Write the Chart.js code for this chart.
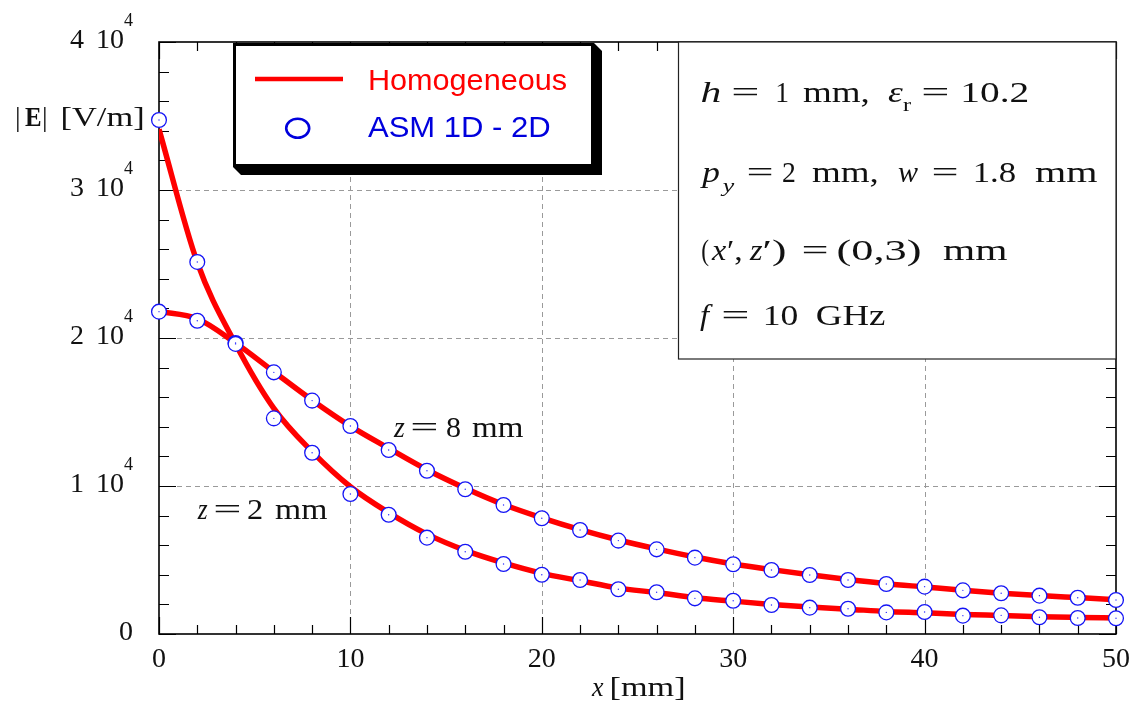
<!DOCTYPE html>
<html>
<head>
<meta charset="utf-8">
<script src="https://cdn.jsdelivr.net/npm/chart.js@4.4.1/dist/chart.umd.min.js"></script>
<style>
  body { margin: 0; background: #fff; }
  canvas { display: block; }
</style>
</head>
<body>
<canvas id="fieldChart" width="1137" height="708"></canvas>
<script>
// sample positions along x [mm]
const xPos = [0, 2, 4, 6, 8, 10, 12, 14, 16, 18, 20, 22, 24, 26, 28, 30, 32, 34, 36, 38, 40, 42, 44, 46, 48, 50];

// |E| [V/m], homogeneous reference solution
const homZ2 = [34100, 25100, 19600, 15250, 12320, 9950, 8200, 6750, 5650, 4800, 4100, 3600, 3100, 2800, 2450, 2220, 2000, 1820, 1680, 1520, 1430, 1320, 1250, 1170, 1120, 1080];
const homZ8 = [21800, 21300, 19660, 17720, 15800, 14050, 12550, 11100, 9850, 8750, 7850, 7050, 6350, 5750, 5200, 4730, 4350, 4000, 3680, 3400, 3180, 2960, 2760, 2600, 2460, 2320];

// |E| [V/m], ASM 1D - 2D samples
const asmZ2 = [34730, 25140, 19600, 14570, 12250, 9460, 8060, 6510, 5560, 4730, 4000, 3650, 3020, 2820, 2410, 2250, 1960, 1780, 1710, 1460, 1490, 1240, 1260, 1130, 1080, 1060];
const asmZ8 = [21780, 21170, 19660, 17680, 15770, 14050, 12430, 11030, 9780, 8720, 7820, 7030, 6310, 5720, 5160, 4710, 4320, 3990, 3650, 3380, 3200, 2950, 2750, 2590, 2450, 2300];

const xTicks = [0, 10, 20, 30, 40, 50];
const xMinor = [2, 4, 6, 8, 12, 14, 16, 18, 22, 24, 26, 28, 32, 34, 36, 38, 42, 44, 46, 48];
const yTicks = [0, 10000, 20000, 30000, 40000];
const yMinor = [2000, 4000, 6000, 8000, 12000, 14000, 16000, 18000, 22000, 24000, 26000, 28000, 32000, 34000, 36000, 38000];
const yMant = ['0', '1', '2', '3', '4'];

const pts = ys => xPos.map((x, i) => ({ x: x, y: ys[i] }));

const SERIF = '"Liberation Serif", "DejaVu Serif", serif';
const RM = '30px ' + SERIF;
const IT = 'italic 30px ' + SERIF;
const SUB = '19px ' + SERIF;
const SUBIT = 'italic 19px ' + SERIF;
const TICK = '28px ' + SERIF;

// draws text so its ink spans x0..x1 (stretched horizontally if needed)
function inkText(ctx, txt, font, x0, x1, y) {
    ctx.font = font;
    ctx.textAlign = 'left';
    ctx.textBaseline = 'alphabetic';
    const m = ctx.measureText(txt);
    const ink = m.actualBoundingBoxLeft + m.actualBoundingBoxRight;
    const s = x1 ? (x1 - x0) / ink : 1;
    ctx.save();
    ctx.translate(x0, y);
    ctx.scale(s, 1);
    ctx.fillText(txt, m.actualBoundingBoxLeft, 0);
    ctx.restore();
}

function drawRuns(ctx, y, list) {
    for (const r of list) {
        inkText(ctx, r[0], r[1], r[2], r[3], y + (r[4] || 0));
    }
}

const decor = {
    id: 'decor',
    beforeDatasetsDraw(chart) {
        const ctx = chart.ctx;
        const a = chart.chartArea;
        const sx = chart.scales.x;
        const sy = chart.scales.y;
        ctx.save();
        // dashed grid at major ticks
        ctx.strokeStyle = '#9a9a9a';
        ctx.lineWidth = 1;
        ctx.setLineDash([5, 4]);
        ctx.beginPath();
        for (const v of xTicks.slice(1, -1)) {
            const px = Math.round(sx.getPixelForValue(v)) + 0.5;
            ctx.moveTo(px, a.top);
            ctx.lineTo(px, a.bottom);
        }
        for (const v of yTicks.slice(1, -1)) {
            const py = Math.round(sy.getPixelForValue(v)) + 0.5;
            ctx.moveTo(a.left, py);
            ctx.lineTo(a.right, py);
        }
        ctx.stroke();
        ctx.setLineDash([]);

        // inward ticks on all four sides
        ctx.strokeStyle = '#000';
        ctx.lineWidth = 1.2;
        ctx.beginPath();
        const xt = (list, len) => {
            for (const v of list) {
                const px = Math.round(sx.getPixelForValue(v)) + 0.5;
                ctx.moveTo(px, a.bottom); ctx.lineTo(px, a.bottom - len);
                ctx.moveTo(px, a.top); ctx.lineTo(px, a.top + len);
            }
        };
        const yt = (list, len) => {
            for (const v of list) {
                const py = Math.round(sy.getPixelForValue(v)) + 0.5;
                ctx.moveTo(a.left, py); ctx.lineTo(a.left + len, py);
                ctx.moveTo(a.right, py); ctx.lineTo(a.right - len, py);
            }
        };
        xt(xTicks, 17);
        xt(xMinor, 9);
        yt(yTicks, 17);
        yt(yMinor, 10);
        ctx.stroke();

        // frame
        ctx.lineWidth = 1.6;
        ctx.strokeRect(a.left, a.top, a.right - a.left, a.bottom - a.top);
        ctx.restore();
    },
    afterDatasetsDraw(chart) {
        const ctx = chart.ctx;
        const a = chart.chartArea;
        const sx = chart.scales.x;
        const sy = chart.scales.y;
        ctx.save();
        ctx.fillStyle = '#111';

        // tick labels
        ctx.font = TICK;
        ctx.textBaseline = 'alphabetic';
        ctx.textAlign = 'center';
        for (const v of xTicks) {
            ctx.fillText(String(v), sx.getPixelForValue(v), 667);
        }
        yTicks.forEach((v, i) => {
            const py = sy.getPixelForValue(v);
            ctx.font = TICK;
            ctx.textAlign = 'right';
            if (v === 0) {
                ctx.fillText('0', a.left - 26, py + 6);
                return;
            }
            ctx.fillText(yMant[i], 84, py + 6);
            ctx.fillText('10', 124, py + 6);
            ctx.textAlign = 'left';
            ctx.font = '18px ' + SERIF;
            ctx.fillText('4', 124, py - 16);
        });

        // axis titles
        drawRuns(ctx, 126, [
            ['|', '28px ' + SERIF, 17, null],
            ['E', 'bold 28px ' + SERIF, 25, 41],
            ['|', '28px ' + SERIF, 44, null],
            ['[V/m]', '28px ' + SERIF, 63, 143]
        ]);
        drawRuns(ctx, 696, [
            ['x', 'italic 28px ' + SERIF, 591, 604],
            ['[mm]', '28px ' + SERIF, 612, 684]
        ]);

        // curve labels
        drawRuns(ctx, 437, [
            ['z', IT, 393, 405], ['=', RM, 412, 437], ['8', RM, 447, 460], ['mm', RM, 472, 523]
        ]);
        drawRuns(ctx, 519, [
            ['z', IT, 197, 208], ['=', RM, 215, 240], ['2', RM, 248, 262], ['mm', RM, 275, 327]
        ]);

        // legend box with drop shadow
        const L = 233, T = 43, R = 594, B = 167, d = 8;
        ctx.fillStyle = '#000';
        ctx.beginPath();
        ctx.moveTo(R, T);
        ctx.lineTo(R + d, T + d);
        ctx.lineTo(R + d, B + d);
        ctx.lineTo(L + d, B + d);
        ctx.lineTo(L, B);
        ctx.closePath();
        ctx.fill();
        ctx.fillStyle = '#fff';
        ctx.fillRect(L, T, R - L, B - T);
        ctx.lineWidth = 3;
        ctx.strokeStyle = '#000';
        ctx.strokeRect(L + 1.5, T + 1.5, R - L - 3, B - T - 3);

        ctx.strokeStyle = '#ff0000';
        ctx.lineWidth = 4.5;
        ctx.beginPath();
        ctx.moveTo(255, 79);
        ctx.lineTo(343, 79);
        ctx.stroke();
        ctx.strokeStyle = '#0000dd';
        ctx.lineWidth = 2.6;
        ctx.beginPath();
        ctx.ellipse(297.7, 128.3, 11.5, 9.5, 0, 0, Math.PI * 2);
        ctx.stroke();

        ctx.fillStyle = '#ff0000';
        inkText(ctx, 'Homogeneous', '30px "Liberation Sans", Arial, sans-serif', 370, 566, 90);
        ctx.fillStyle = '#0000dd';
        inkText(ctx, 'ASM 1D - 2D', '30px "Liberation Sans", Arial, sans-serif', 368, 550, 137);

        // parameter box
        ctx.fillStyle = '#fff';
        ctx.fillRect(678, 42, a.right - 678, 317);
        ctx.strokeStyle = '#222';
        ctx.lineWidth = 1.2;
        ctx.strokeRect(678.5, 42, a.right - 678.5, 317);
        ctx.fillStyle = '#111';
        drawRuns(ctx, 102, [
            ['h', IT, 702, 720], ['=', RM, 733, 758], ['1', RM, 777, 788], ['mm,', RM, 803, 868],
            ['\u03b5', IT, 888, 903], ['r', SUB, 903, 912, 9], ['=', RM, 923, 948], ['10.2', RM, 963, 1028]
        ]);
        drawRuns(ctx, 182, [
            ['p', IT, 700, 720], ['y', SUBIT, 720, 735, 10], ['=', RM, 748, 772], ['2', RM, 783, 795],
            ['mm,', RM, 812, 877], ['w', IT, 898, 918], ['=', RM, 933, 957], ['1.8', RM, 975, 1015],
            ['mm', RM, 1035, 1097]
        ]);
        drawRuns(ctx, 260, [
            ['(', RM, 702, 709], ['x', IT, 711, 727], ['\u2032,', RM, 728, 741], ['z', IT, 749, 763],
            ['\u2032)', RM, 764, 785], ['=', RM, 803, 827], ['(0,3)', RM, 838, 920], ['mm', RM, 943, 1007]
        ]);
        drawRuns(ctx, 325, [
            ['f', IT, 700, 713], ['=', RM, 723, 748], ['10', RM, 765, 797], ['GHz', RM, 817, 885]
        ]);
        ctx.restore();
    }
};

const ctx = document.getElementById('fieldChart').getContext('2d');

// open blue circles, plus a tiny centre dot on top of each
const ringSet = ys => ({
    label: 'ASM 1D - 2D',
    data: pts(ys),
    showLine: false,
    pointStyle: 'circle',
    pointRadius: 7.4,
    pointBorderWidth: 1.3,
    pointBorderColor: '#1414f5',
    pointBackgroundColor: '#ffffff',
    clip: false,
    order: 1
});
const dotSet = ys => ({
    label: 'ASM 1D - 2D',
    data: pts(ys),
    showLine: false,
    pointStyle: 'circle',
    pointRadius: 0.7,
    pointBorderWidth: 0,
    pointBackgroundColor: '#2a2aff',
    clip: false,
    order: 0
});
const lineSet = ys => ({
    label: 'Homogeneous',
    data: pts(ys),
    borderColor: '#ff0000',
    borderWidth: 5.5,
    pointRadius: 0,
    cubicInterpolationMode: 'monotone',
    fill: false,
    order: 2
});

new Chart(ctx, {
    type: 'line',
    data: {
        datasets: [
            dotSet(asmZ2), dotSet(asmZ8),
            ringSet(asmZ2), ringSet(asmZ8),
            lineSet(homZ2), lineSet(homZ8)
        ]
    },
    options: {
        responsive: false,
        animation: false,
        events: [],
        layout: { padding: { left: 159, top: 42, right: 21, bottom: 74 } },
        plugins: {
            legend: { display: false },
            tooltip: { enabled: false }
        },
        scales: {
            x: { type: 'linear', min: 0, max: 50, display: false },
            y: { type: 'linear', min: 0, max: 40000, display: false }
        }
    },
    plugins: [decor]
});
</script>
</body>
</html>
